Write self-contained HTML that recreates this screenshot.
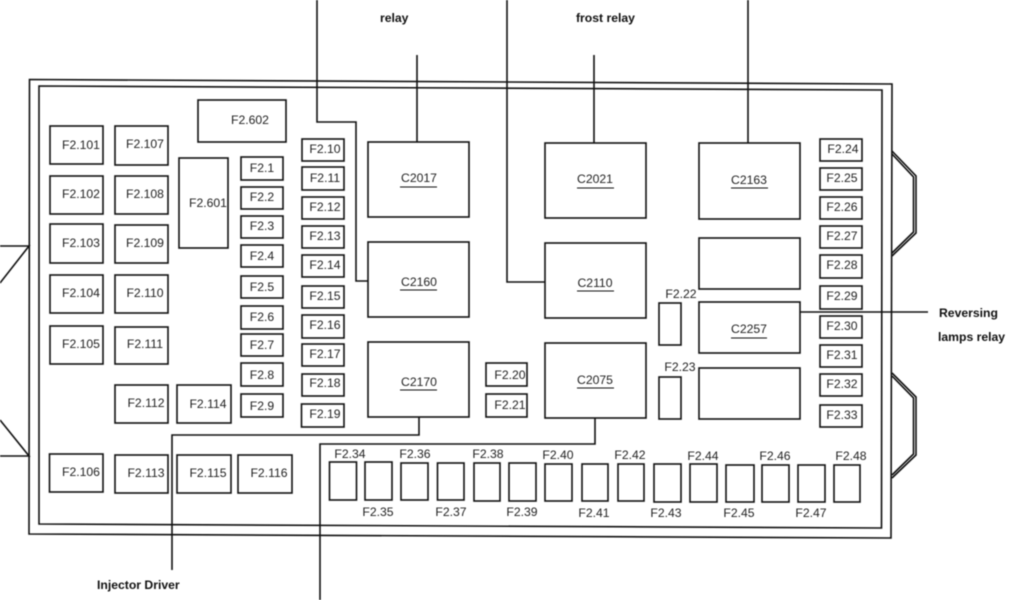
<!DOCTYPE html>
<html><head><meta charset="utf-8"><style>
html,body{margin:0;padding:0;background:#fff}
svg{display:block;filter:blur(.4px)}
.b rect,.l path{fill:none;stroke:#111;stroke-width:1.6}
text{font-family:"Liberation Sans",sans-serif;font-size:12.2px;fill:#222;text-anchor:middle}
.h{font-size:12.2px;font-weight:bold;fill:#111;text-anchor:start}
</style></head><body>
<svg width="1024" height="600" viewBox="0 0 1024 600" xmlns="http://www.w3.org/2000/svg">
<g class="l">
<path d="M29.500 79.500L892 84L891 538L29 534Z"/>
<path d="M39 86L882 90L881.500 528L39 524Z"/>
<path d="M0 246H29L0 283M0 456H29L0 420"/>
<path d="M892 151L916 176V233L892 256M892 154L913.500 177V232L892 253"/>
<path d="M892 373L916 397V455L892 478M892 376L913.500 398V454L892 475"/>
<path d="M317 0V122H356V281H368"/>
<path d="M507 0V282H545"/>
<path d="M417 55V142M594 55V143M748 0V143"/>
<path d="M419 417V435H172V570"/>
<path d="M595 418V444H320V600"/>
<path d="M800 312H928"/>
<path d="M400 187H437M400 290H437M400 390H437M577 188H614M577 291H614M577 388H614M731 188H768M731 338H767" style="stroke-width:1"/>
</g>
<g class="b">
<rect x="50" y="126" width="53" height="38"/><rect x="50" y="176" width="53" height="38"/><rect x="50" y="224" width="53" height="39"/><rect x="50" y="275" width="53" height="38"/><rect x="50" y="326" width="53" height="38"/><rect x="49.500" y="454" width="53.500" height="38"/>
<rect x="115" y="126" width="53" height="39"/><rect x="115" y="176" width="53" height="38"/><rect x="115" y="225" width="53" height="38"/><rect x="115" y="275" width="53" height="38"/><rect x="115" y="327" width="53" height="37"/><rect x="115" y="385" width="53" height="38"/><rect x="115" y="455" width="53" height="38"/>
<rect x="177" y="385" width="54" height="38"/><rect x="177" y="455" width="54" height="38"/><rect x="238" y="455" width="54" height="38"/>
<rect x="198" y="100" width="88" height="42"/><rect x="179" y="158" width="49" height="90"/>
<rect x="241" y="157" width="42" height="23"/><rect x="241" y="187" width="42" height="22"/><rect x="241" y="216" width="42" height="22"/><rect x="241" y="245" width="42" height="22"/><rect x="241" y="276" width="42" height="22"/><rect x="241" y="306" width="42" height="23"/><rect x="241" y="334" width="42" height="22"/><rect x="241" y="363" width="42" height="23"/><rect x="241" y="394" width="42" height="23"/>
<rect x="302" y="139" width="42" height="22"/><rect x="302" y="167" width="42" height="23"/><rect x="302" y="197" width="42" height="22"/><rect x="302" y="226" width="42" height="22"/><rect x="302" y="255" width="42" height="22"/><rect x="302" y="286" width="42" height="22"/><rect x="302" y="315" width="42" height="23"/><rect x="302" y="344" width="42" height="22"/><rect x="302" y="374" width="42" height="22"/><rect x="301.500" y="404" width="42.500" height="23"/>
<rect x="368" y="142" width="101" height="75"/><rect x="368" y="242" width="101" height="75"/><rect x="368" y="342" width="101" height="75"/>
<rect x="545" y="143" width="101" height="75"/><rect x="545" y="243" width="101" height="75"/><rect x="545" y="343" width="101" height="75"/>
<rect x="699" y="143" width="101" height="76"/><rect x="699" y="238" width="101" height="51"/><rect x="699" y="302" width="101" height="51"/><rect x="699" y="368" width="101" height="51"/>
<rect x="659" y="303" width="22" height="42"/><rect x="659" y="377" width="22" height="42"/>
<rect x="486" y="363" width="41" height="23"/><rect x="486" y="394" width="41" height="23"/>
<rect x="820" y="139" width="42" height="22"/><rect x="820" y="168" width="42" height="22"/><rect x="820" y="197" width="42" height="22"/><rect x="820" y="226" width="42" height="22"/><rect x="820" y="255" width="42" height="23"/><rect x="820" y="286" width="42" height="23"/><rect x="820" y="316" width="42" height="22"/><rect x="820" y="345" width="42" height="22"/><rect x="820" y="374" width="42" height="22"/><rect x="820" y="405" width="42" height="22"/>
<rect x="329.500" y="462" width="27" height="38"/><rect x="365" y="462" width="27" height="38"/><rect x="401" y="463" width="27" height="37"/><rect x="437.500" y="463" width="26.500" height="37"/><rect x="474" y="463" width="26" height="38"/><rect x="509" y="463" width="27" height="38"/><rect x="545" y="464" width="27" height="37"/><rect x="582" y="464" width="26" height="37"/><rect x="618" y="464" width="26" height="37"/><rect x="654" y="464" width="27" height="38"/><rect x="690" y="464" width="27" height="38"/><rect x="726" y="465" width="28" height="37"/><rect x="762" y="465" width="27" height="37"/><rect x="798" y="465" width="27" height="37"/><rect x="834" y="465" width="26" height="37"/>
</g>
<text x="81" y="149">F2.101</text><text x="81" y="198">F2.102</text><text x="81" y="247">F2.103</text><text x="81" y="297">F2.104</text><text x="81" y="348">F2.105</text><text x="81" y="476">F2.106</text>
<text x="145" y="148">F2.107</text><text x="145" y="198">F2.108</text><text x="145" y="247">F2.109</text><text x="145" y="297">F2.110</text><text x="145" y="348">F2.111</text><text x="146" y="407">F2.112</text><text x="146" y="477">F2.113</text>
<text x="208" y="408">F2.114</text><text x="208" y="477">F2.115</text><text x="269" y="477">F2.116</text>
<text x="250" y="124">F2.602</text><text x="208" y="207">F2.601</text>
<text x="262" y="172">F2.1</text><text x="262" y="201">F2.2</text><text x="262" y="230">F2.3</text><text x="262" y="260">F2.4</text><text x="262" y="291">F2.5</text><text x="262" y="321">F2.6</text><text x="262" y="349">F2.7</text><text x="262" y="379">F2.8</text><text x="262" y="410">F2.9</text>
<text x="325" y="153">F2.10</text><text x="325" y="182">F2.11</text><text x="325" y="211">F2.12</text><text x="325" y="240">F2.13</text><text x="325" y="269">F2.14</text><text x="325" y="300">F2.15</text><text x="325" y="329">F2.16</text><text x="325" y="358">F2.17</text><text x="325" y="387">F2.18</text><text x="325" y="418">F2.19</text>
<text x="419" y="182">C2017</text><text x="419" y="286">C2160</text><text x="419" y="386">C2170</text><text x="595" y="183">C2021</text><text x="595" y="287">C2110</text><text x="595" y="384">C2075</text><text x="749" y="184">C2163</text><text x="749" y="333">C2257</text>
<text x="510" y="379">F2.20</text><text x="510" y="409">F2.21</text><text x="681" y="298">F2.22</text><text x="680" y="371">F2.23</text>
<text x="843" y="153">F2.24</text><text x="842" y="182">F2.25</text><text x="842" y="211">F2.26</text><text x="842" y="240">F2.27</text><text x="842" y="269">F2.28</text><text x="842" y="300">F2.29</text><text x="842" y="330">F2.30</text><text x="842" y="359">F2.31</text><text x="842" y="388">F2.32</text><text x="842" y="419">F2.33</text>
<text x="350" y="458">F2.34</text><text x="415" y="458">F2.36</text><text x="488" y="458">F2.38</text><text x="558" y="459">F2.40</text><text x="630" y="459">F2.42</text><text x="703" y="460">F2.44</text><text x="775" y="460">F2.46</text><text x="851" y="460">F2.48</text>
<text x="378" y="516">F2.35</text><text x="451" y="516">F2.37</text><text x="522" y="516">F2.39</text><text x="594" y="517">F2.41</text><text x="666" y="517">F2.43</text><text x="739" y="517">F2.45</text><text x="811" y="517">F2.47</text>
<text class="h" x="380" y="22">relay</text><text class="h" x="576" y="22">frost relay</text>
<text class="h" x="939" y="317">Reversing</text><text class="h" x="938" y="341">lamps relay</text>
<text class="h" x="97" y="589">Injector Driver</text>
</svg>
</body></html>
